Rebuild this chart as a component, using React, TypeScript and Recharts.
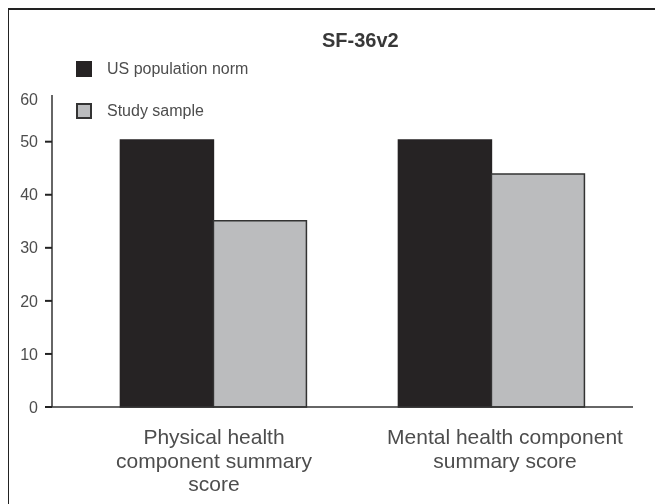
import { BarChart, Bar, XAxis, YAxis } from "recharts";

const categories = ["Physical health component summary score", "Mental health component summary score"];
const categoryLines = [
  ["Physical health", "component summary", "score"],
  ["Mental health component", "summary score"],
];
const usNorm = [50.3, 50.3];
const studySample = [35.1, 43.9];
const yTicks = [0, 10, 20, 30, 40, 50, 60];

const series = [
  { key: "us", name: "US population norm", fill: "#262324", stroke: "#262324" },
  { key: "study", name: "Study sample", fill: "#bbbcbe", stroke: "#333333" },
];

const data = categories.map((c, i) => ({ name: c, us: usNorm[i], study: studySample[i] }));

const FONT = "'Liberation Sans', Arial, sans-serif";
const TEXT = "#4d4d4d";
// axis line stops just under the 60 label, which carries no tick mark
const Y_TOP = 58.8;
const labelShift = [1, 14];

const XTick = ({ x, y, index }: any) => {
  const lines = categoryLines[index] || [];
  const cx = x + (labelShift[index] || 0);
  return (
    <text x={cx} y={y} textAnchor="middle" fontSize={21} fill={TEXT} fontFamily={FONT}>
      {lines.map((l, i) => (
        <tspan key={i} x={cx} dy={i === 0 ? 37 : 23.5}>{l}</tspan>
      ))}
    </text>
  );
};

const TopLabel = ({ viewBox }: any) => (
  <text x={viewBox.x + viewBox.width - 14} y={viewBox.y + 10} textAnchor="end" fontSize={16} fill={TEXT} fontFamily={FONT}>
    {yTicks[yTicks.length - 1]}
  </text>
);

export default function App() {
  return (
    <div style={{ position: "fixed", left: 8, top: 8, width: 647, height: 496 }}>
      <div style={{ position: "absolute", left: 0, top: 0, width: 647, height: 496, borderTop: "2px solid #222", borderLeft: "1.5px solid #222", boxSizing: "border-box" }} />
      <div style={{ position: "absolute", left: 314, top: 21, fontFamily: FONT, fontWeight: "bold", fontSize: 20, color: "#383838" }}>
        SF-36v2
      </div>
      {series.map((s, i) => (
        <div key={s.key} style={{ position: "absolute", left: 68, top: 53 + i * 42, display: "flex", alignItems: "center", height: 16, fontFamily: FONT, fontSize: 16, color: TEXT }}>
          <span style={{ width: 16, height: 16, background: s.fill, border: `2px solid ${s.stroke}`, boxSizing: "border-box", display: "inline-block", marginRight: 15 }} />
          <span>{s.name}</span>
        </div>
      ))}
      <BarChart
        width={647}
        height={496}
        data={data}
        margin={{ top: 87, right: 22, bottom: 7, left: 0 }}
        barGap={0}
        barCategoryGap="16.7%"
        style={{ position: "absolute", left: 0, top: 0 }}
      >
        <XAxis
          dataKey="name"
          height={90}
          tick={<XTick />}
          tickLine={false}
          tickSize={0}
          tickMargin={0}
          axisLine={{ stroke: "#333", strokeWidth: 1.5 }}
          padding={{ left: 22, right: 3 }}
          interval={0}
        />
        <YAxis
          width={44}
          domain={[0, Y_TOP]}
          ticks={yTicks.filter((t) => t <= Y_TOP)}
          tick={{ fontSize: 16, fill: TEXT, fontFamily: FONT }}
          tickLine={{ stroke: "#222", strokeWidth: 2 }}
          tickSize={7}
          tickMargin={7}
          axisLine={{ stroke: "#333", strokeWidth: 1.5 }}
          label={<TopLabel />}
        />
        {series.map((s) => (
          <Bar key={s.key} dataKey={s.key} name={s.name} fill={s.fill} stroke={s.stroke} strokeWidth={1.5} isAnimationActive={false} />
        ))}
      </BarChart>
    </div>
  );
}
